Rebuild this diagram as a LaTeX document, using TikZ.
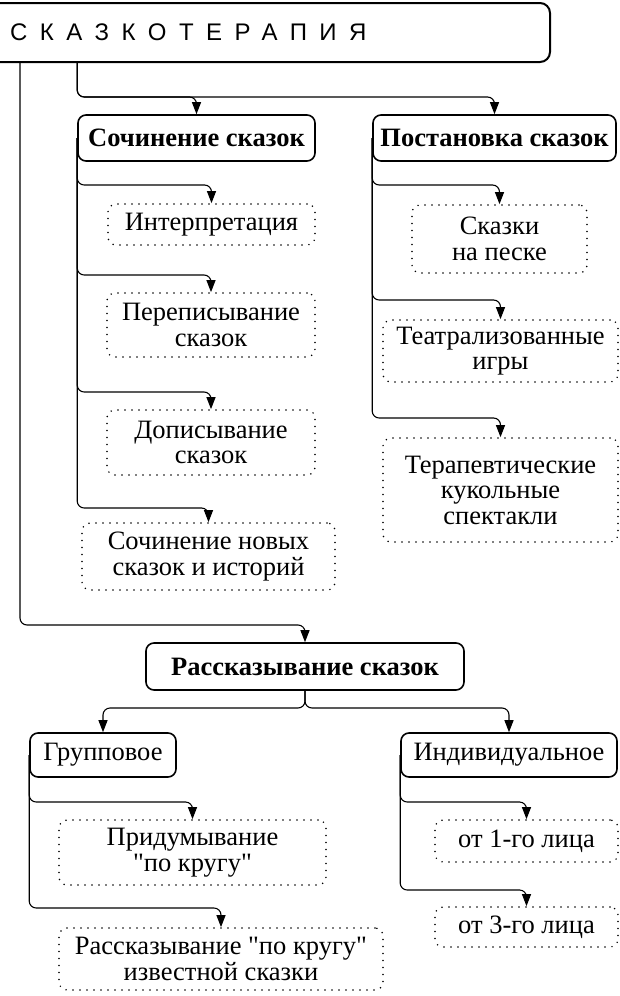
\documentclass[tikz,border=0pt]{standalone}
\usepackage{fontspec}
\newfontfamily\serif{Liberation Serif}
\newfontfamily\titlefont[LetterSpace=52]{Liberation Sans}
\usetikzlibrary{arrows.meta}
\begin{document}
\begin{tikzpicture}[x=1pt,y=-1pt,
  boldbox/.style={draw, line width=1.6pt, rounded corners=8pt, inner sep=2pt,
    font=\serif\fontsize{26.5}{26}\selectfont\bfseries, align=center},
  plainbox/.style={draw, line width=1.6pt, rounded corners=8pt, inner sep=2pt,
    font=\serif\fontsize{26.5}{25.5}\selectfont, align=center},
  dotbox/.style={draw, line width=1.7pt, dash pattern=on 0pt off 7pt, line cap=round,
    rounded corners=8pt, inner sep=2pt, font=\serif\fontsize{26.5}{25.5}\selectfont, align=center},
  conn/.style={line width=1.1pt, rounded corners=7pt, -{Triangle[length=12pt,width=9pt]}}]
\useasboundingbox (0,0) rectangle (620,996);
\fill[white] (0,0) rectangle (620,996);
\clip (0,0) rectangle (620,996);

% title
\node[draw, line width=2pt, rounded corners=10pt, minimum width=562pt, minimum height=59pt, inner sep=0] (title) at (269,32.5) {};
\node[anchor=base west, inner sep=0, font=\titlefont\fontsize{24}{24}\selectfont] (titletext) at (10,40) {СКАЗКОТЕРАПИЯ};

% level 1
\node[boldbox, minimum width=237pt, minimum height=46pt] (soch) at (196.5,138) {Сочинение сказок};
\node[boldbox, minimum width=243pt, minimum height=46pt] (post) at (494.5,138) {Постановка сказок};
\node[boldbox, minimum width=318pt, minimum height=47pt] (rassk) at (305,666.5) {Рассказывание сказок};

% Сочинение children
\node[dotbox, minimum width=207pt, minimum height=41pt] (interp) at (211.5,224.5) {Интерпретация};
\node[dotbox, minimum width=208pt, minimum height=64pt] (perep) at (211,325) {Переписывание\\сказок};
\node[dotbox, minimum width=208pt, minimum height=65pt] (dopis) at (211,442.5) {Дописывание\\сказок};
\node[dotbox, minimum width=253pt, minimum height=67pt] (novye) at (208.5,556.5) {Сочинение новых\\сказок и историй};

% Постановка children
\node[dotbox, minimum width=175pt, minimum height=68pt] (pesok) at (499.5,239) {Сказки\\на песке};
\node[dotbox, minimum width=235pt, minimum height=62pt] (teatr) at (500.5,351) {Театрализованные\\игры};
\node[dotbox, minimum width=235pt, minimum height=104pt] (kukol) at (500.5,490) {Терапевтические\\кукольные\\спектакли};

% Рассказывание children
\node[plainbox, minimum width=146pt, minimum height=44pt] (grupp) at (103,755) {Групповое};
\node[plainbox, minimum width=216pt, minimum height=44pt] (indiv) at (509,755) {Индивидуальное};
\node[dotbox, minimum width=267pt, minimum height=65pt] (pridum) at (192.5,852.5) {Придумывание\\"по кругу"};
\node[dotbox, minimum width=324pt, minimum height=62pt] (izvest) at (221,959) {Рассказывание "по кругу"\\известной сказки};
\node[dotbox, minimum width=183pt, minimum height=42pt] (lico1) at (526.5,841) {от 1-го лица};
\node[dotbox, minimum width=183pt, minimum height=40pt] (lico3) at (526.5,927) {от 3-го лица};

% connectors
\draw[conn] (title.south -| soch.west) |- (soch.north |- 0,97) -- (soch.north);
\draw[conn] (title.south -| soch.west) |- (post.north |- 0,97) -- (post.north);
\draw[conn] (title.south -| 20,0) |- (rassk.north |- 0,625) -- (rassk.north);

\draw[conn] (soch.west) |- (interp.north |- 0,185) -- (interp.north);
\draw[conn] (soch.west) |- (perep.north |- 0,275) -- (perep.north);
\draw[conn] (soch.west) |- (dopis.north |- 0,392) -- (dopis.north);
\draw[conn] (soch.west) |- (novye.north |- 0,508) -- (novye.north);

\draw[conn] (post.west) |- (pesok.north |- 0,185) -- (pesok.north);
\draw[conn] (post.west) |- (teatr.north |- 0,300) -- (teatr.north);
\draw[conn] (post.west) |- (kukol.north |- 0,418) -- (kukol.north);

\draw[conn] (rassk.south) |- (grupp.north |- 0,708) -- (grupp.north);
\draw[conn] (rassk.south) |- (indiv.north |- 0,708) -- (indiv.north);

\draw[conn] (grupp.west) |- (pridum.north |- 0,802) -- (pridum.north);
\draw[conn] (grupp.west) |- (izvest.north |- 0,908) -- (izvest.north);
\draw[conn] (indiv.west) |- (lico1.north |- 0,802) -- (lico1.north);
\draw[conn] (indiv.west) |- (lico3.north |- 0,890) -- (lico3.north);
\end{tikzpicture}
\end{document}
